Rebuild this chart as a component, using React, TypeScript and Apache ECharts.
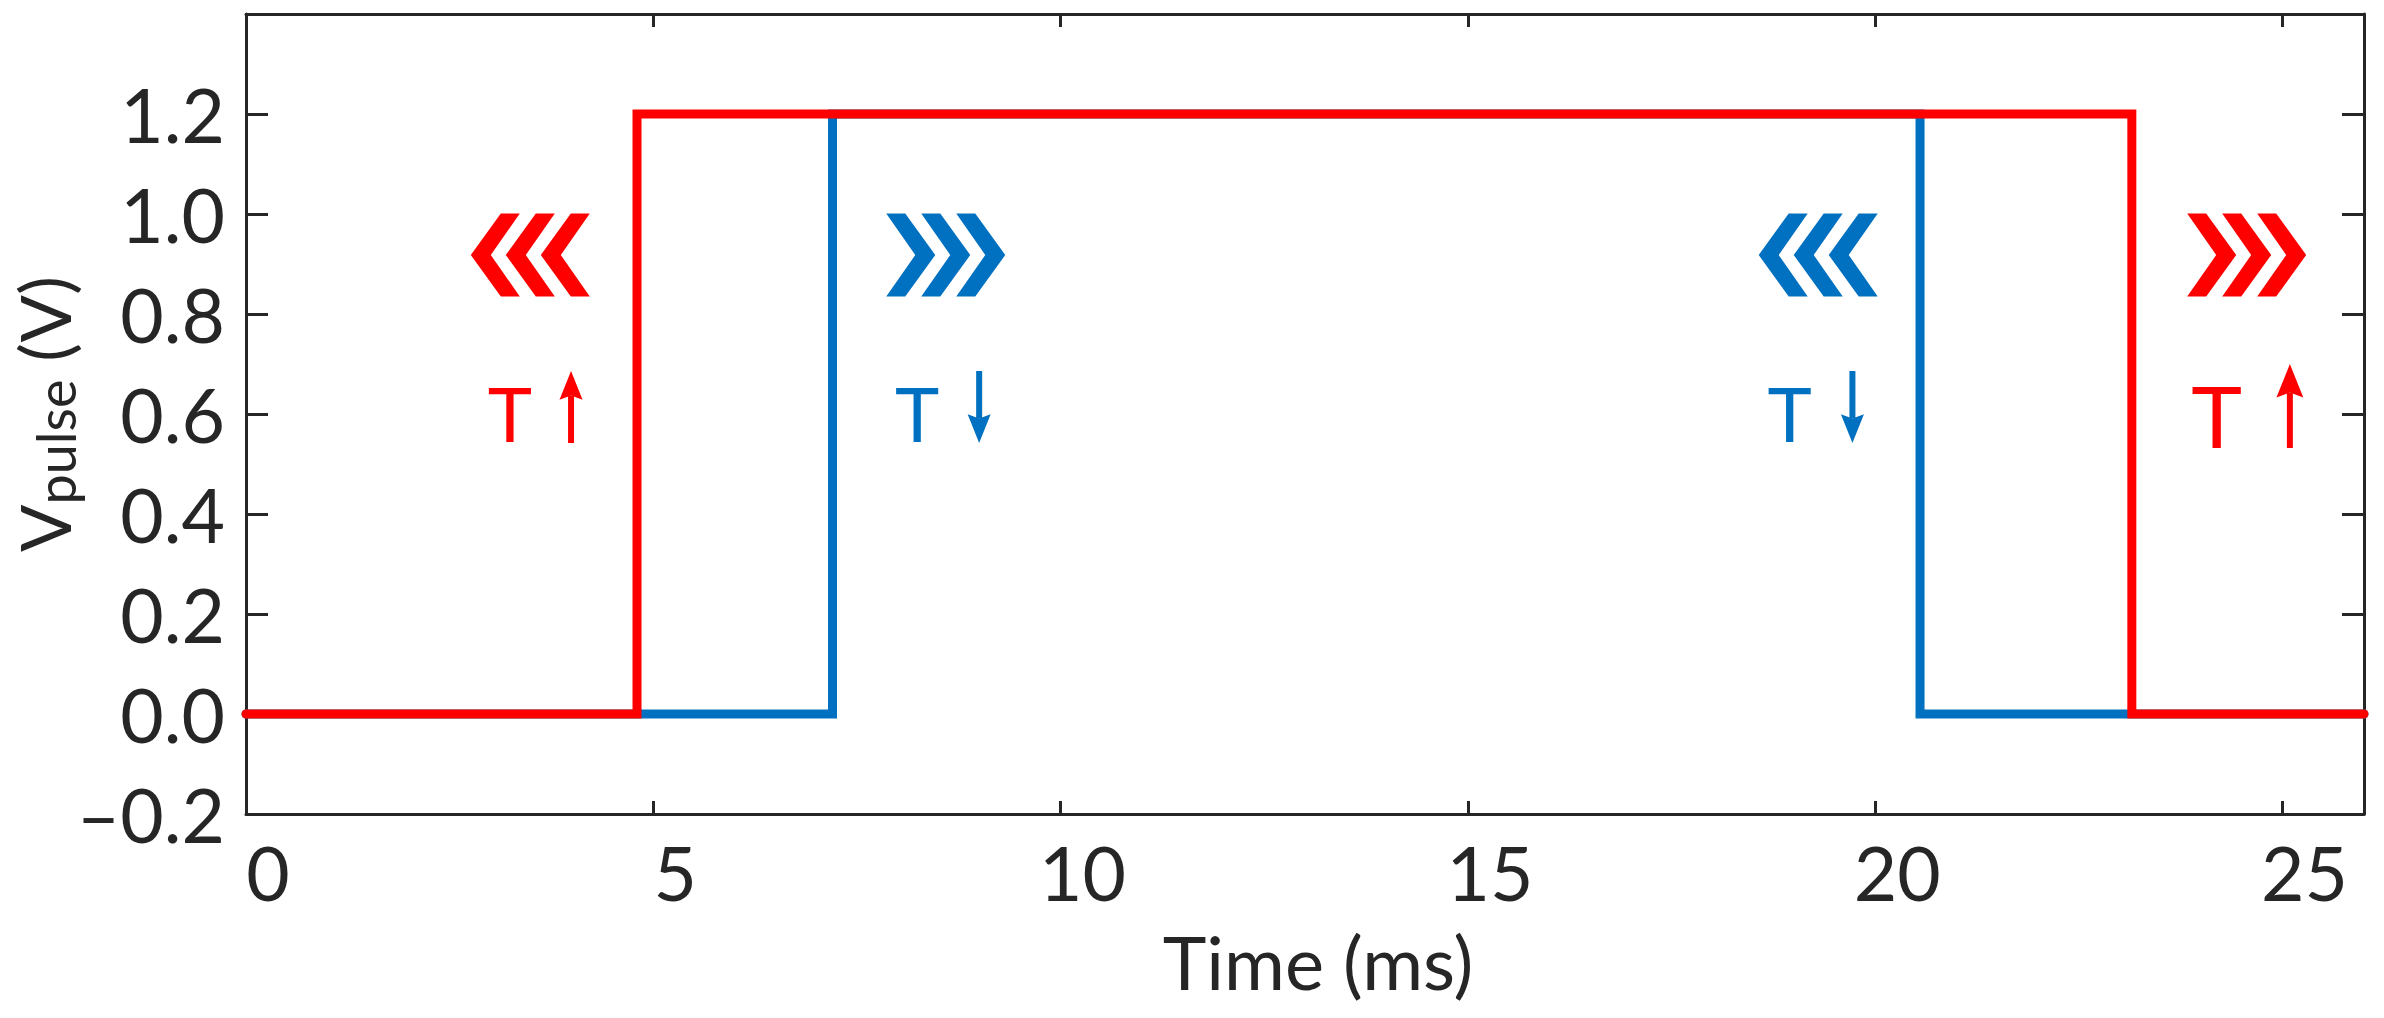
import React, { useEffect, useRef } from "react";
import * as echarts from "echarts";

// ---- data ----
const timeRed = [0, 4.8, 4.8, 23.15, 23.15, 26];
const voltRed = [0, 0, 1.2, 1.2, 0, 0];
const timeBlue = [0, 7.2, 7.2, 20.55, 20.55, 26];
const voltBlue = [0, 0, 1.2, 1.2, 0, 0];

const xTickLabels = [0, 5, 10, 15, 20, 25];
const yTickLabels = [-0.2, 0, 0.2, 0.4, 0.6, 0.8, 1.0, 1.2];

// annotation anchors (data coordinates)
const chevronX = [3.49, 8.59, 19.3, 24.56];
const chevronY = [0.918, 0.918, 0.918, 0.918];
const chevronDir = ["left", "right", "left", "right"];
const tempDir = ["up", "down", "down", "up"];
const tLabelX = [3.24, 8.24, 18.95, 24.19];
const tLabelY = [0.608, 0.608, 0.608, 0.606];
const arrowX = [3.99, 9.0, 19.72, 25.09];
const arrowTail = [0.542, 0.686, 0.686, 0.532];
const arrowHead = [0.686, 0.542, 0.542, 0.7];

const RED = "#FF0000";
const BLUE = "#0070C0";
const AX = "#262626";
const FONT = "Lato";

const colorOf = (d: string) => (d === "up" ? RED : BLUE);

export default function App() {
  const ref = useRef<HTMLDivElement>(null);

  useEffect(() => {
    if (!ref.current) return;
    const chart = echarts.init(ref.current, undefined, { renderer: "svg" });

    const redData = timeRed.map((t, i) => [t, voltRed[i]]);
    const blueData = timeBlue.map((t, i) => [t, voltBlue[i]]);

    const chevData = chevronX.map((x, i) => [x, chevronY[i], chevronDir[i] === "left" ? -1 : 1, tempDir[i] === "up" ? 0 : 1]);
    const tData = tLabelX.map((x, i) => [x, tLabelY[i], tempDir[i] === "up" ? 0 : 1]);
    const arrData = arrowX.map((x, i) => [x, arrowTail[i], arrowHead[i], tempDir[i] === "up" ? 0 : 1]);

    const pal = [colorOf("up"), colorOf("down")];

    const axisLine = { show: true, onZero: false, lineStyle: { color: AX, width: 3 } };

    chart.setOption({
      animation: false,
      backgroundColor: "#ffffff",
      grid: { left: 246, right: 20, top: 14, bottom: 204, containLabel: false, outerBoundsMode: "none" },
      xAxis: [
        {
          type: "value",
          min: 0,
          max: 26,
          interval: 5,
          position: "bottom",
          axisLine,
          axisTick: { show: true, inside: true, length: 13, lineStyle: { color: AX, width: 3 } },
          splitLine: { show: false },
          axisLabel: {
            show: true,
            fontSize: 75,
            fontFamily: FONT,
            color: AX,
            margin: 20,
            padding: [0, 0, 0, 44],
            showMaxLabel: false,
            formatter: (v: number) => (xTickLabels.includes(Math.round(v * 1000) / 1000) ? String(v) : ""),
          },
          name: "Time (ms)",
          nameLocation: "middle",
          nameGap: 110,
          nameMoveOverlap: false,
          nameTextStyle: { fontSize: 74, fontFamily: FONT, color: AX, padding: [0, 0, 0, 26] },
        },
        {
          type: "value",
          min: 0,
          max: 26,
          interval: 5,
          position: "top",
          axisLine,
          axisTick: { show: true, inside: true, length: 13, lineStyle: { color: AX, width: 3 } },
          splitLine: { show: false },
          axisLabel: { show: false },
        },
      ],
      yAxis: [
        {
          type: "value",
          min: -0.2,
          max: 1.4,
          interval: 0.2,
          position: "left",
          axisLine,
          axisTick: { show: true, inside: true, length: 22, lineStyle: { color: AX, width: 3 } },
          splitLine: { show: false },
          axisLabel: {
            show: true,
            fontSize: 75,
            fontFamily: FONT,
            color: AX,
            margin: 21,
            padding: [20, 0, 0, 0],
            formatter: (v: number) => {
              const r = Math.round(v * 1000) / 1000;
              if (!yTickLabels.some((t) => Math.abs(t - r) < 1e-6)) return "";
              const s = (Math.abs(r) < 1e-9 ? 0 : r).toFixed(1);
              return s.replace("-", "\u2013");
            },
          },
          name: "{v|V}{s|pulse}{v| (V)}",
          nameLocation: "middle",
          nameRotate: 90,
          nameGap: 164,
          nameMoveOverlap: false,
          nameTextStyle: {
            color: AX,
            fontFamily: FONT,
            rich: {
              v: { fontSize: 70, fontFamily: FONT, color: AX, verticalAlign: "middle" },
              s: { fontSize: 54, fontFamily: FONT, color: AX, verticalAlign: "middle", padding: [22, 0, 0, 0] },
            },
          },
        },
        {
          type: "value",
          min: -0.2,
          max: 1.4,
          interval: 0.2,
          position: "right",
          axisLine,
          axisTick: { show: true, inside: true, length: 22, lineStyle: { color: AX, width: 3 } },
          splitLine: { show: false },
          axisLabel: { show: false },
        },
      ],
      series: [
        {
          type: "line",
          data: blueData,
          symbol: "none",
          clip: false,
          z: 2,
          lineStyle: { color: BLUE, width: 9, cap: "round", join: "miter" },
        },
        {
          type: "line",
          data: redData,
          symbol: "none",
          clip: false,
          z: 3,
          lineStyle: { color: RED, width: 9, cap: "round", join: "miter" },
        },
        {
          type: "custom",
          data: chevData,
          clip: false,
          z: 4,
          encode: { x: 0, y: 1 },
          renderItem: (params: any, api: any) => {
            const c = api.coord([api.value(0), api.value(1)]);
            const dir = api.value(2);
            const col = pal[api.value(3)];
            const h = 41.5;
            const total = 119;
            const left = c[0] - total / 2;
            const children: any[] = [];
            for (let k = 0; k < 3; k++) {
              const t = left + 35 * k;
              let pts = [
                [t, 0],
                [t + 30, -h],
                [t + 49, -h],
                [t + 20, 0],
                [t + 49, h],
                [t + 30, h],
              ];
              if (dir > 0) pts = pts.map((p) => [2 * c[0] - p[0], p[1]]);
              children.push({
                type: "polygon",
                shape: { points: pts.map((p) => [p[0], c[1] + p[1]]) },
                style: { fill: col },
              });
            }
            return { type: "group", children };
          },
        },
        {
          type: "custom",
          data: tData,
          clip: false,
          z: 4,
          encode: { x: 0, y: 1 },
          renderItem: (params: any, api: any) => {
            const c = api.coord([api.value(0), api.value(1)]);
            const col = pal[api.value(2)];
            const fs = params.dataIndex === 3 ? 86 : 75;
            return {
              type: "text",
              x: c[0],
              y: c[1] + 3,
              style: {
                text: "T",
                fill: col,
                font: `${fs}px ${FONT}`,
                align: "center",
                verticalAlign: "middle",
              },
            };
          },
        },
        {
          type: "custom",
          data: arrData,
          clip: false,
          z: 4,
          encode: { x: 0, y: [1, 2] },
          renderItem: (params: any, api: any) => {
            const x = api.value(0);
            const p0 = api.coord([x, api.value(1)]);
            const p1 = api.coord([x, api.value(2)]);
            const col = pal[api.value(3)];
            const len = Math.abs(p1[1] - p0[1]);
            const dir = p1[1] < p0[1] ? 1 : -1; // 1: pointing up
            const hl = len * 0.4;
            const hw = len * 0.32;
            const baseY = p1[1] + dir * hl;
            const notchY = p1[1] + dir * hl * 0.85;
            return {
              type: "group",
              children: [
                {
                  type: "line",
                  shape: { x1: p0[0], y1: p0[1], x2: p0[0], y2: notchY },
                  style: { stroke: col, lineWidth: 6 },
                },
                {
                  type: "polygon",
                  shape: {
                    points: [
                      [p1[0], p1[1]],
                      [p1[0] - hw / 2, baseY],
                      [p1[0], notchY],
                      [p1[0] + hw / 2, baseY],
                    ],
                  },
                  style: { fill: col },
                },
              ],
            };
          },
        },
      ],
    });

    return () => chart.dispose();
  }, []);

  return (
    <div
      ref={ref}
      style={{ position: "fixed", left: 0, top: 0, width: 2384, height: 1018, background: "#ffffff" }}
    />
  );
}
